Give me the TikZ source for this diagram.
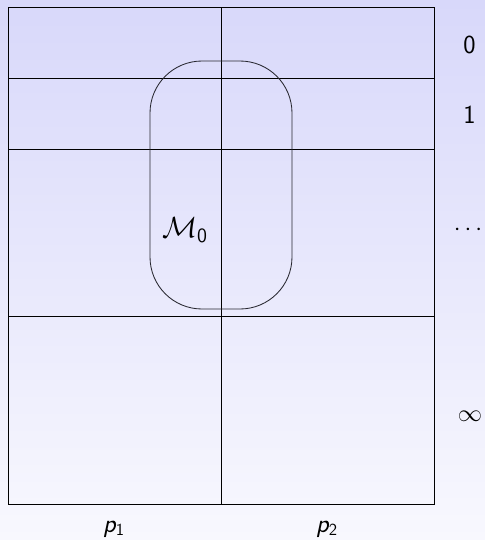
\documentclass[tikz,border=0pt]{standalone}
\usepackage{amsmath, amssymb}
\usepackage{tikz}
\usetikzlibrary{positioning, calc}
\definecolor{bgTop}{RGB}{216,216,250}
\definecolor{bgBot}{RGB}{248,248,254}
\definecolor{lineGray}{RGB}{40,40,48}

\begin{document}
\begin{tikzpicture}[x=0.025cm, y=-0.025cm,
  gridline/.style={draw=black, line width=0.6pt},
  blob/.style={draw=lineGray, line width=0.6pt, rounded corners=1.3cm},
  lbl/.style={font=\fontsize{18.5}{22}\selectfont\sffamily, inner sep=0pt},
]
  % background
  \shade[top color=bgTop, bottom color=bgBot] (0,0) rectangle (485,540);
  \useasboundingbox (0,0) rectangle (485,540);

  % the grid
  \draw[gridline] (8,7) rectangle (434,504);
  \draw[gridline] (8,78) -- (434,78);
  \draw[gridline] (8,149) -- (434,149);
  \draw[gridline] (8,316) -- (434,316);
  \draw[gridline] (221,7) -- (221,504);

  % the set M_0
  \draw[blob] (150,61) rectangle (292,309);
  \node[font=\fontsize{20}{24}\selectfont, inner sep=0pt] (m0) at (185,230) {$\mathcal{M}_{\mathsf{0}}$};

  % levels
  \node[lbl, anchor=base] (r0) at (469.5,53) {0};
  \node[lbl, anchor=base] (r1) at (469.5,123) {1};
  \node[lbl] (rd) at (470,230) {$\cdots$};
  \node[lbl] (rinf) at (470,416) {$\infty$};

  % processes
  \node[lbl, anchor=base] (p1) at (114,532) {{\itshape p}$_{\mathsf{1}}$};
  \node[lbl, anchor=base] (p2) at (327,532) {{\itshape p}$_{\mathsf{2}}$};
\end{tikzpicture}
\end{document}
